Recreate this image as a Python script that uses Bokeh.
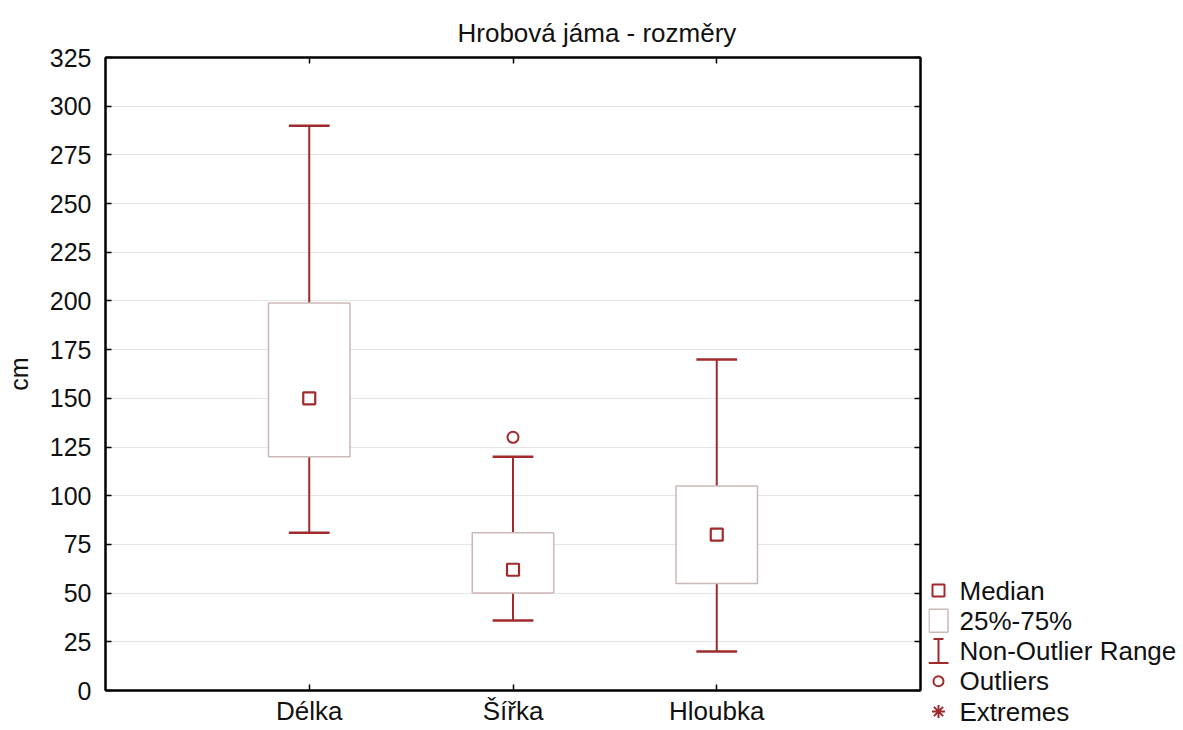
import numpy as np
from bokeh.plotting import figure
from bokeh.models import (Range1d, FixedTicker, LinearAxis, Plot, ColumnDataSource,
                          Scatter, Rect, Segment, Text)
from bokeh.layouts import row
from bokeh.core.properties import value
from bokeh.embed import file_html
from bokeh.resources import INLINE

# ---- data ----
categories = ["Délka", "Šířka", "Hloubka"]
whisker_low = [81, 36, 20]
q1 = [120, 50, 55]
median = [150, 62, 80]
q3 = [199, 81, 105]
whisker_high = [290, 120, 170]
outlier_cat = [2]          # 1-based category index
outlier_val = [130]
y_ticks = list(range(0, 326, 25))
legend_labels = ["Median", "25%-75%", "Non-Outlier Range", "Outliers", "Extremes"]

FONT = "Liberation Sans"
DARK = "#a02a2c"
BOXC = "#cdb8b8"
TXT = "#111111"

xs = np.arange(1, len(categories) + 1)

W1 = 928
H = 728
p = figure(width=W1, height=H, output_backend="svg", toolbar_location=None,
           x_range=Range1d(0, len(categories) + 1), y_range=Range1d(0, 325),
           min_border_left=105, min_border_right=8, min_border_top=57, min_border_bottom=20,
           title="Hrobová jáma - rozměry")
p.frame_align = False
p.title.align = "left"
p.title.offset = 352
p.title.standoff = 20
p.title.text_font = FONT
p.title.text_font_size = "26px"
p.title.text_font_style = "normal"
p.title.text_color = TXT
p.outline_line_color = "black"
p.outline_line_width = 2
p.background_fill_color = "white"
p.border_fill_color = "white"

# axes
p.xaxis.ticker = FixedTicker(ticks=list(xs))
p.xaxis.major_label_overrides = {int(i): c for i, c in zip(xs, categories)}
p.yaxis.ticker = FixedTicker(ticks=y_ticks)
p.yaxis.axis_label = "cm"
for ax in (p.xaxis[0], p.yaxis[0]):
    ax.axis_line_color = "black"
    ax.axis_line_width = 2
    ax.major_tick_in = 6
    ax.major_tick_out = 0
    ax.major_tick_line_color = "black"
    ax.major_tick_line_width = 1.5
    ax.minor_tick_line_color = None
    ax.major_label_text_font = FONT
    ax.major_label_text_color = TXT
p.yaxis.major_label_text_font_size = "25px"
p.xaxis.major_label_text_font_size = "26px"
p.xaxis.major_label_standoff = 5
p.yaxis.major_label_standoff = 14
p.yaxis.axis_label_text_font = FONT
p.yaxis.axis_label_text_font_size = "25px"
p.yaxis.axis_label_text_font_style = "normal"
p.yaxis.axis_label_text_color = TXT
p.yaxis.axis_label_standoff = 14

top = LinearAxis(ticker=FixedTicker(ticks=list(xs)))
right = LinearAxis(ticker=FixedTicker(ticks=y_ticks))
for ax in (top, right):
    ax.axis_line_color = "black"
    ax.axis_line_width = 2
    ax.major_tick_in = 6
    ax.major_tick_out = 0
    ax.major_tick_line_width = 1.5
    ax.minor_tick_line_color = None
    ax.major_label_text_font_size = "0px"
    ax.major_label_standoff = 0
p.add_layout(top, "above")
p.add_layout(right, "right")

p.xgrid.grid_line_color = None
p.ygrid.ticker = FixedTicker(ticks=y_ticks)
p.ygrid.grid_line_color = "#e4e4e4"
p.ygrid.grid_line_width = 1.2

# whiskers
p.segment(x0=xs, y0=whisker_low, x1=xs, y1=q1, line_color=DARK, line_width=2)
p.segment(x0=xs, y0=q3, x1=xs, y1=whisker_high, line_color=DARK, line_width=2)
p.segment(x0=xs - 0.1, y0=whisker_low, x1=xs + 0.1, y1=whisker_low, line_color=DARK, line_width=2.5)
p.segment(x0=xs - 0.1, y0=whisker_high, x1=xs + 0.1, y1=whisker_high, line_color=DARK, line_width=2.5)
# boxes
p.vbar(x=xs, width=0.4, bottom=q1, top=q3, fill_color="white", line_color=BOXC, line_width=1.5)
# medians
p.scatter(x=xs, y=median, marker="square", size=12, fill_color="white",
          line_color=DARK, line_width=2.2)
# outliers
p.scatter(x=outlier_cat, y=outlier_val, marker="circle", size=11, fill_color="white",
          line_color=DARK, line_width=2)

# ---- legend panel (pixel coordinates, y downward) ----
LW = 1180 - W1
leg = Plot(width=LW, height=H, output_backend="svg", toolbar_location=None,
           x_range=Range1d(0, LW), y_range=Range1d(H, 0),
           min_border=0, outline_line_color=None, title=None)
leg.frame_align = False
y0, step = 590, 30.25
ly = [y0 + i * step for i in range(len(legend_labels))]
gx = 10


def add(glyph, **data):
    leg.add_glyph(ColumnDataSource(data), glyph)


add(Scatter(x="x", y="y", marker="square", size=12, fill_color="white",
            line_color=DARK, line_width=2), x=[gx], y=[ly[0]])
add(Rect(x="x", y="y", width=19, height=23, fill_color="white",
         line_color=BOXC, line_width=1.5), x=[gx], y=[ly[1]])
add(Segment(x0="x0", y0="y0", x1="x1", y1="y1", line_color=DARK, line_width=2),
    x0=[gx, gx - 5, gx - 10], y0=[ly[2] - 12, ly[2] - 12, ly[2] + 12],
    x1=[gx, gx + 5, gx + 10], y1=[ly[2] + 12, ly[2] - 12, ly[2] + 12])
add(Scatter(x="x", y="y", marker="circle", size=10, fill_color="white",
            line_color=DARK, line_width=2), x=[gx], y=[ly[3]])
add(Scatter(x="x", y="y", marker="asterisk", size=13, line_color=DARK, line_width=2),
    x=[gx], y=[ly[4]])
add(Text(x="x", y="y", text="t", text_font=value(FONT), text_font_size="26px",
         text_baseline="middle", text_color=TXT),
    x=[31] * len(legend_labels), y=ly, t=legend_labels)

layout = row(p, leg)
open("out.html", "w").write(file_html(layout, INLINE))
